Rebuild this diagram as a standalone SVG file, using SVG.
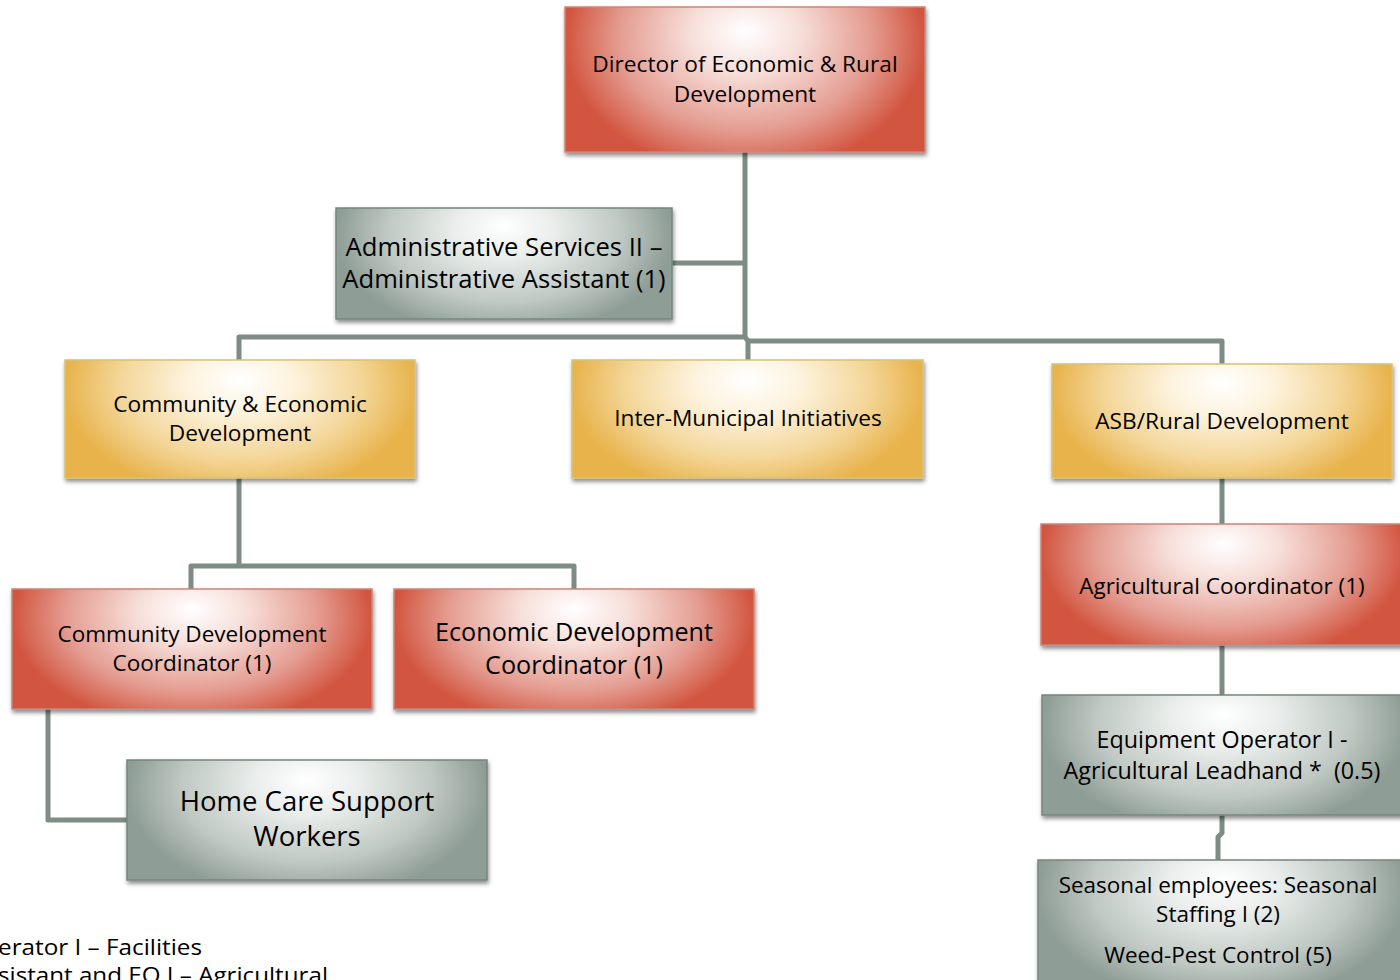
<svg xmlns="http://www.w3.org/2000/svg" width="1400" height="980" viewBox="0 0 1400 980">
<style>
  .t { font-family: "Open Sans", "Noto Sans", "Liberation Sans", sans-serif; font-variant-ligatures: none; fill: #000; text-anchor: middle; }
  .fn { font-family: "Open Sans", "Noto Sans", "Liberation Sans", sans-serif; font-variant-ligatures: none; fill: #000; font-size: 22px; }
  .conn { fill: none; stroke: #7d8c84; stroke-width: 5; stroke-linejoin: round; }
  .red { fill: url(#gRed); stroke: #c9867a; stroke-width: 1.5; filter: url(#sh); }
  .yel { fill: url(#gYel); stroke: #d6c27a; stroke-width: 1.5; filter: url(#sh); }
  .gry { fill: url(#gGry); stroke: #76867e; stroke-width: 1.5; filter: url(#sh); }
</style>
<defs>
  <radialGradient id="gRed" cx="0.5" cy="0.25" r="0.5" fx="0.5" fy="0.2" gradientTransform="translate(0.5 0.25) scale(1 1.8) translate(-0.5 -0.25)">
    <stop offset="0" stop-color="#ffffff"/>
    <stop offset="0.3" stop-color="#f7dfda"/>
    <stop offset="0.7" stop-color="#e49c91"/>
    <stop offset="1" stop-color="#d2553f"/>
  </radialGradient>
  <radialGradient id="gYel" cx="0.5" cy="0.25" r="0.5" fx="0.5" fy="0.2" gradientTransform="translate(0.5 0.25) scale(1 1.8) translate(-0.5 -0.25)">
    <stop offset="0" stop-color="#ffffff"/>
    <stop offset="0.3" stop-color="#fdf3de"/>
    <stop offset="0.7" stop-color="#f3d596"/>
    <stop offset="1" stop-color="#e8b34c"/>
  </radialGradient>
  <radialGradient id="gGry" cx="0.5" cy="0.25" r="0.5" fx="0.5" fy="0.2" gradientTransform="translate(0.5 0.25) scale(1 1.8) translate(-0.5 -0.25)">
    <stop offset="0" stop-color="#ffffff"/>
    <stop offset="0.3" stop-color="#e9edeb"/>
    <stop offset="0.7" stop-color="#bfc8c3"/>
    <stop offset="1" stop-color="#8e9d95"/>
  </radialGradient>
  <filter id="sh" x="-10%" y="-10%" width="125%" height="130%">
    <feDropShadow dx="1" dy="3" stdDeviation="2" flood-color="#000" flood-opacity="0.45"/>
  </filter>
</defs>
<rect width="1400" height="980" fill="#ffffff"/>

<g id="connectors">
  <path class="conn" d="M745,152 V336 M672,263 H745"/>
  <path class="conn" d="M239,360 V337 H745 L748,341 V360"/>
  <path class="conn" d="M748,341 H1222 V364"/>
  <path class="conn" d="M239,478 V566 M191,589 V566 H574 V589"/>
  <path class="conn" d="M48,709 V820 H127"/>
  <path class="conn" d="M1222,478 V524 M1222,645 V695 M1222,815 V833 L1218,837 V860"/>
</g>

<g id="director">
  <rect class="red" x="565" y="7" width="360" height="145"/>
  <text class="t" font-size="22.7" x="745" y="72">Director of Economic &amp; Rural</text>
  <text class="t" font-size="22.7" x="745" y="102">Development</text>
</g>

<g id="admin">
  <rect class="gry" x="336" y="208" width="336" height="111"/>
  <text class="t" font-size="25.6" x="504" y="256">Administrative Services II –</text>
  <text class="t" font-size="25.6" x="504" y="288">Administrative Assistant (1)</text>
</g>

<g id="ced">
  <rect class="yel" x="65" y="360" width="350" height="118"/>
  <text class="t" font-size="22.7" x="240" y="412">Community &amp; Economic</text>
  <text class="t" font-size="22.7" x="240" y="441">Development</text>
</g>

<g id="imi">
  <rect class="yel" x="572" y="360" width="351" height="118"/>
  <text class="t" font-size="22.7" x="748" y="426">Inter-Municipal Initiatives</text>
</g>

<g id="asb">
  <rect class="yel" x="1052" y="364" width="340" height="114"/>
  <text class="t" font-size="22.7" x="1222" y="429">ASB/Rural Development</text>
</g>

<g id="cdc">
  <rect class="red" x="12" y="589" width="360" height="120"/>
  <text class="t" font-size="22.5" x="192" y="642">Community Development</text>
  <text class="t" font-size="22.5" x="192" y="671">Coordinator (1)</text>
</g>

<g id="edc">
  <rect class="red" x="394" y="589" width="360" height="120"/>
  <text class="t" font-size="25.2" x="574" y="641">Economic Development</text>
  <text class="t" font-size="25.2" x="574" y="674">Coordinator (1)</text>
</g>

<g id="homecare">
  <rect class="gry" x="127" y="760" width="360" height="120"/>
  <text class="t" font-size="27.5" x="307" y="811">Home Care Support</text>
  <text class="t" font-size="27.5" x="307" y="846">Workers</text>
</g>

<g id="agcoord">
  <rect class="red" x="1041" y="524" width="365" height="121"/>
  <text class="t" font-size="22.5" x="1222" y="594">Agricultural Coordinator (1)</text>
</g>

<g id="eo">
  <rect class="gry" x="1042" y="695" width="364" height="120"/>
  <text class="t" font-size="23.3" x="1222" y="748">Equipment Operator I -</text>
  <text class="t" font-size="23.3" x="1222" y="779" xml:space="preserve">Agricultural Leadhand *  (0.5)</text>
</g>

<g id="seasonal">
  <rect class="gry" x="1038" y="860" width="368" height="125"/>
  <text class="t" font-size="22.5" x="1218" y="893">Seasonal employees: Seasonal</text>
  <text class="t" font-size="22.5" x="1218" y="922">Staffing I (2)</text>
  <text class="t" font-size="22.5" x="1218" y="963">Weed-Pest Control (5)</text>
</g>

<g id="footnote">
  <text class="fn" x="-2" y="955" textLength="204" lengthAdjust="spacingAndGlyphs">erator I – Facilities</text>
  <text class="fn" x="-2" y="983" textLength="330" lengthAdjust="spacingAndGlyphs">sistant and EO I – Agricultural</text>
</g>
</svg>
